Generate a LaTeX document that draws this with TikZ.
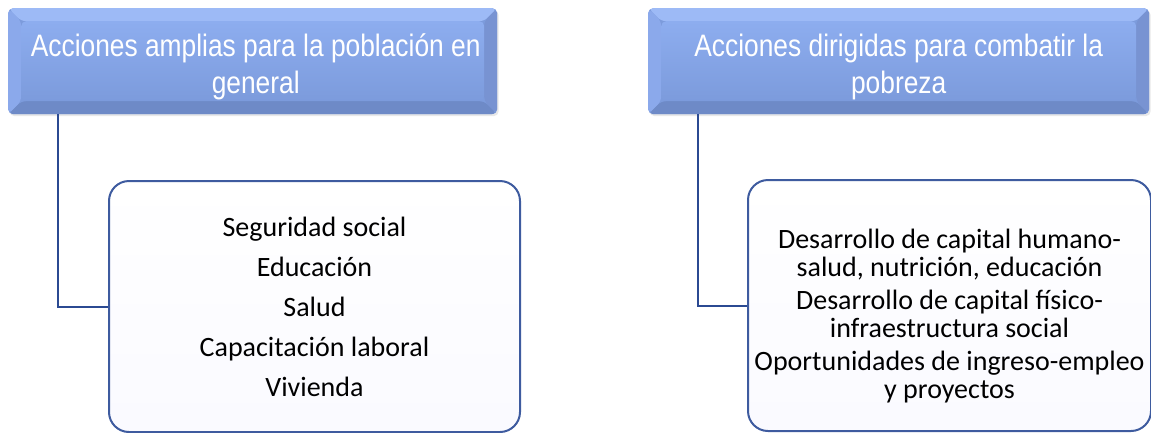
\documentclass[tikz,border=0pt]{standalone}
\usepackage{fontspec}
\setmainfont{Carlito}
\newfontfamily\hdrfont{Liberation Sans}[FakeStretch=0.85]
\usetikzlibrary{calc,shadows}
\definecolor{bevtop}{HTML}{9DBAF6}
\definecolor{bevleft}{HTML}{8BA9EB}
\definecolor{bevright}{HTML}{7893D2}
\definecolor{bevbot}{HTML}{6E8AC7}
\definecolor{facetop}{HTML}{8DADEF}
\definecolor{facebot}{HTML}{7C9BDC}
\definecolor{connblue}{HTML}{2B4A92}
\definecolor{boxline}{HTML}{3E5B9F}
\tikzset{
  header/.style={rounded corners=5pt, inner sep=0pt,
    drop shadow={opacity=0.18, shadow xshift=1.5pt, shadow yshift=-2pt},
    fill=facebot,
    path picture={
      \coordinate (NW) at (path picture bounding box.north west);
      \coordinate (NE) at (path picture bounding box.north east);
      \coordinate (SW) at (path picture bounding box.south west);
      \coordinate (SE) at (path picture bounding box.south east);
      \fill[bevtop] (NW) -- (NE) -- ($(NE)+(-13pt,-13pt)$) -- ($(NW)+(13pt,-13pt)$) -- cycle;
      \fill[bevbot] (SW) -- (SE) -- ($(SE)+(-13pt,13pt)$) -- ($(SW)+(13pt,13pt)$) -- cycle;
      \fill[bevleft] (NW) -- ($(NW)+(13pt,-13pt)$) -- ($(SW)+(13pt,13pt)$) -- (SW) -- cycle;
      \fill[bevright] (NE) -- ($(NE)+(-13pt,-13pt)$) -- ($(SE)+(-13pt,13pt)$) -- (SE) -- cycle;
      \shade[top color=facetop, bottom color=facebot] ($(NW)+(13pt,-13pt)$) rectangle ($(SE)+(-13pt,13pt)$);
    }},
  headertext/.style={inner sep=0pt, align=center, text=white,
    font=\hdrfont\fontsize{31}{37}\selectfont},
  itembox/.style={rounded corners=20pt, draw=boxline, line width=2pt, inner sep=0pt,
    top color=white, bottom color=black!3!blue!2!white},
  itemtext/.style={inner sep=0pt, align=center, font=\fontsize{28}{40}\selectfont},
  conn/.style={draw=connblue, line width=2pt},
}
\begin{document}
\begin{tikzpicture}[x=1pt,y=-1pt]
\useasboundingbox (0,0) rectangle (1151,432);
\node[header, minimum width=489pt, minimum height=106pt, anchor=north west] (h1) at (8,8) {};
\node[headertext] (h1t) at ([xshift=3pt,yshift=-6pt]h1.center) {Acciones amplias para la población en\\general};
\node[header, minimum width=501pt, minimum height=106pt, anchor=north west] (h2) at (648,8) {};
\node[headertext] (h2t) at ([yshift=-6pt]h2.center) {Acciones dirigidas para combatir la\\pobreza};
\node[itembox, minimum width=411pt, minimum height=251pt, anchor=north west] (b1) at (108,180) {};
\node[itemtext] (b1t) at (b1.center)
  {Seguridad social\\Educación\\Salud\\Capacitación laboral\\Vivienda};
\node[itembox, minimum width=403pt, minimum height=251pt, anchor=north west] (b2) at (747,179) {};
\node[itemtext, font=\fontsize{28}{28}\selectfont] (b2t) at ([yshift=-11pt]b2.center)
  {Desarrollo de capital humano-\\salud, nutrición, educación\\[5pt]
   Desarrollo de capital físico-\\infraestructura social\\[5pt]
   Oportunidades de ingreso-empleo\\y proyectos};
\draw[conn] ([xshift=50pt]h1.south west) |- (b1.west);
\draw[conn] ([xshift=50pt]h2.south west) |- (b2.west);
\end{tikzpicture}
\end{document}
